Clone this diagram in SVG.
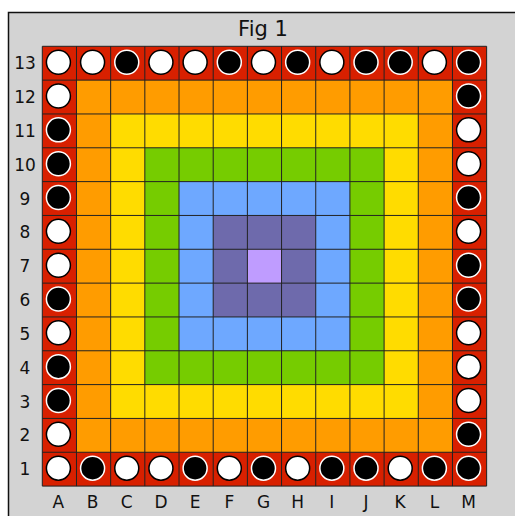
<svg xmlns="http://www.w3.org/2000/svg" width="515" height="516" viewBox="0 0 515 516">
<style>
.lbl{font-family:"DejaVu Sans",Verdana,sans-serif;font-size:17px;fill:#111;text-anchor:middle}
.col{font-size:17px}
.w{fill:#fff;stroke:#000;stroke-width:1.5}
.b{fill:#000;stroke:#fff;stroke-width:1.5}
.gl{stroke:#222;stroke-width:1;fill:none}
</style>
<rect width="515" height="516" fill="#fff"/>
<rect id="frame" x="8.5" y="12.5" width="520" height="520" fill="#d3d3d3" stroke="#111" stroke-width="1.5"/>
<text id="title" class="lbl" x="263" y="36" style="font-size:21px">Fig 1</text>
<g id="rings">
<rect x="42.3" y="46.3" width="444.34" height="439.79" fill="#d82000"/>
<rect x="76.48" y="80.13" width="375.98" height="372.13" fill="#ff9c00"/>
<rect x="110.66" y="113.96" width="307.62" height="304.47" fill="#ffdc00"/>
<rect x="144.84" y="147.79" width="239.26" height="236.81" fill="#76cc00"/>
<rect x="179.02" y="181.62" width="170.9" height="169.15" fill="#6ea8ff"/>
<rect x="213.2" y="215.45" width="102.54" height="101.49" fill="#6e6aac"/>
<rect x="247.38" y="249.28" width="34.18" height="33.83" fill="#bf9cff"/>
</g>
<g id="gridlines" class="gl">
<path d="M42.3 46.3V486.09M76.48 46.3V486.09M110.66 46.3V486.09M144.84 46.3V486.09M179.02 46.3V486.09M213.2 46.3V486.09M247.38 46.3V486.09M281.56 46.3V486.09M315.74 46.3V486.09M349.92 46.3V486.09M384.1 46.3V486.09M418.28 46.3V486.09M452.46 46.3V486.09M486.64 46.3V486.09"/>
<path d="M42.3 46.3H486.64M42.3 80.13H486.64M42.3 113.96H486.64M42.3 147.79H486.64M42.3 181.62H486.64M42.3 215.45H486.64M42.3 249.28H486.64M42.3 283.11H486.64M42.3 316.94H486.64M42.3 350.77H486.64M42.3 384.6H486.64M42.3 418.43H486.64M42.3 452.26H486.64M42.3 486.09H486.64"/>
</g>
<g id="pieces">
<g id="row13">
<circle class="w" cx="58.4" cy="62.2" r="12"/>
<circle class="w" cx="92.58" cy="62.2" r="12"/>
<circle class="b" cx="126.76" cy="62.2" r="12"/>
<circle class="w" cx="160.94" cy="62.2" r="12"/>
<circle class="w" cx="195.12" cy="62.2" r="12"/>
<circle class="b" cx="229.3" cy="62.2" r="12"/>
<circle class="w" cx="263.48" cy="62.2" r="12"/>
<circle class="b" cx="297.66" cy="62.2" r="12"/>
<circle class="w" cx="331.84" cy="62.2" r="12"/>
<circle class="b" cx="366.02" cy="62.2" r="12"/>
<circle class="b" cx="400.2" cy="62.2" r="12"/>
<circle class="w" cx="434.38" cy="62.2" r="12"/>
<circle class="b" cx="468.56" cy="62.2" r="12"/>
</g>
<g id="row1">
<circle class="w" cx="58.4" cy="468.16" r="12"/>
<circle class="b" cx="92.58" cy="468.16" r="12"/>
<circle class="w" cx="126.76" cy="468.16" r="12"/>
<circle class="w" cx="160.94" cy="468.16" r="12"/>
<circle class="b" cx="195.12" cy="468.16" r="12"/>
<circle class="w" cx="229.3" cy="468.16" r="12"/>
<circle class="b" cx="263.48" cy="468.16" r="12"/>
<circle class="w" cx="297.66" cy="468.16" r="12"/>
<circle class="b" cx="331.84" cy="468.16" r="12"/>
<circle class="b" cx="366.02" cy="468.16" r="12"/>
<circle class="w" cx="400.2" cy="468.16" r="12"/>
<circle class="b" cx="434.38" cy="468.16" r="12"/>
<circle class="b" cx="468.56" cy="468.16" r="12"/>
</g>
<g id="colA">
<circle class="w" cx="58.4" cy="96.03" r="12"/>
<circle class="b" cx="58.4" cy="129.86" r="12"/>
<circle class="b" cx="58.4" cy="163.69" r="12"/>
<circle class="b" cx="58.4" cy="197.52" r="12"/>
<circle class="w" cx="58.4" cy="231.35" r="12"/>
<circle class="w" cx="58.4" cy="265.18" r="12"/>
<circle class="b" cx="58.4" cy="299.01" r="12"/>
<circle class="w" cx="58.4" cy="332.84" r="12"/>
<circle class="b" cx="58.4" cy="366.67" r="12"/>
<circle class="b" cx="58.4" cy="400.5" r="12"/>
<circle class="w" cx="58.4" cy="434.33" r="12"/>
</g>
<g id="colM">
<circle class="b" cx="468.56" cy="96.03" r="12"/>
<circle class="w" cx="468.56" cy="129.86" r="12"/>
<circle class="w" cx="468.56" cy="163.69" r="12"/>
<circle class="b" cx="468.56" cy="197.52" r="12"/>
<circle class="w" cx="468.56" cy="231.35" r="12"/>
<circle class="b" cx="468.56" cy="265.18" r="12"/>
<circle class="b" cx="468.56" cy="299.01" r="12"/>
<circle class="w" cx="468.56" cy="332.84" r="12"/>
<circle class="w" cx="468.56" cy="366.67" r="12"/>
<circle class="w" cx="468.56" cy="400.5" r="12"/>
<circle class="b" cx="468.56" cy="434.33" r="12"/>
</g>
</g>
<g id="rowlabels" class="lbl">
<text x="25" y="69.2">13</text>
<text x="25" y="103.03">12</text>
<text x="25" y="136.86">11</text>
<text x="25" y="170.69">10</text>
<text x="25" y="204.52">9</text>
<text x="25" y="238.35">8</text>
<text x="25" y="272.18">7</text>
<text x="25" y="306.01">6</text>
<text x="25" y="339.84">5</text>
<text x="25" y="373.67">4</text>
<text x="25" y="407.5">3</text>
<text x="25" y="441.33">2</text>
<text x="25" y="475.16">1</text>
</g>
<g id="collabels" class="lbl col">
<text x="58.4" y="508">A</text>
<text x="92.58" y="508">B</text>
<text x="126.76" y="508">C</text>
<text x="160.94" y="508">D</text>
<text x="195.12" y="508">E</text>
<text x="229.3" y="508">F</text>
<text x="263.48" y="508">G</text>
<text x="297.66" y="508">H</text>
<text x="331.84" y="508">I</text>
<text x="366.02" y="508">J</text>
<text x="400.2" y="508">K</text>
<text x="434.38" y="508">L</text>
<text x="468.56" y="508">M</text>
</g>
</svg>
